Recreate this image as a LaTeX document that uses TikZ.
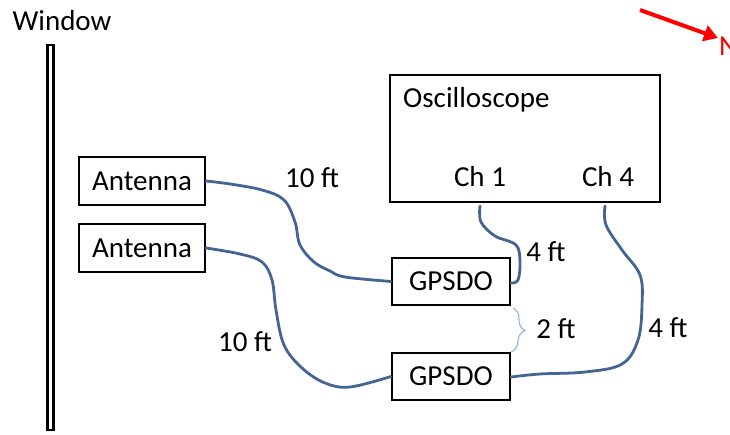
\documentclass[tikz,border=0pt]{standalone}
\usepackage{fontspec}
\setmainfont{Carlito}
\usetikzlibrary{arrows.meta,decorations.pathreplacing}
\definecolor{cable}{RGB}{68,101,148}
\definecolor{bracec}{RGB}{142,180,227}
\begin{document}
\begin{tikzpicture}[x=1pt,y=-1pt,
  every node/.style={font=\fontsize{29}{34}\selectfont},
  box/.style={draw=black,line width=2pt,minimum width=126pt,minimum height=48pt,inner sep=0pt},
  gbox/.style={draw=black,line width=2pt,minimum width=118pt,minimum height=47pt,inner sep=0pt},
  wire/.style={draw=cable,line width=2.8pt,line cap=round,line join=round},
  lbl/.style={inner sep=0pt}]
\useasboundingbox (0,0) rectangle (730,435);
% window
\node[lbl] (wt) at (62,21) {Window};
\node[draw=black,line width=2.4pt,minimum width=6pt,minimum height=385pt,inner sep=0pt] (win) at (50.5,237.5) {};
% antennas
\node[box] (a1) at (142,181) {Antenna};
\node[box] (a2) at (142,248) {Antenna};
% oscilloscope
\node[draw=black,line width=2pt,minimum width=270pt,minimum height=127pt,inner sep=0pt] (osc) at (525,138.5) {};
\node[lbl,anchor=west] (oscl) at (403,100) {Oscilloscope};
\node[lbl] (ch1) at (480,177) {Ch 1};
\node[lbl] (ch4) at (608,177) {Ch 4};
\coordinate (c1) at (480,206);
\coordinate (c4) at (605,206);
% GPSDOs
\node[gbox] (g1) at (451,281.5) {GPSDO};
\node[gbox] (g2) at (451,376.5) {GPSDO};
% cables
\draw[wire] plot[smooth,tension=0.6] coordinates {(a1.east) (230,184) (262,190) (284,200) (295,222) (300,245) (314,262) (330,271) (345,277) (g1.west)};
\draw[wire] plot[smooth,tension=0.6] coordinates {(a2.east) (240,254) (262,262) (272,280) (276,310) (284,345) (302,368) (325,383) (350,387) (g2.west)};
\draw[wire] plot[smooth,tension=0.6] coordinates {(c1) (481,222) (495,236) (516,245) (520,262) (518,280) (511,283)};
\draw[wire] plot[smooth,tension=0.6] coordinates {(c4) (606,225) (622,250) (640,275) (642,305) (638,340) (622,364) (585,372) (540,374) (511,377)};
% labels
\node[lbl] (l1) at (312,178) {10 ft};
\node[lbl] (l2) at (245,342) {10 ft};
\node[lbl] (l3) at (546,252) {4 ft};
\node[lbl] (l4) at (668,328) {4 ft};
\node[lbl] (l5) at (556,329) {2 ft};
% brace
\draw[bracec,line width=1.1pt,decorate,decoration={brace,amplitude=13pt,aspect=0.5}] (g1.south east) ++(2,2) coordinate (b1) -- (g2.north east) ++(2,-2) coordinate (b2);
% north arrow
\coordinate (na) at (640,10);
\node[lbl,text=red,anchor=west] (nn) at (719,46) {N};
\draw[red,line width=4pt,-{Triangle[length=14pt,width=16pt]}] (na) -- (718,38);
\end{tikzpicture}
\end{document}
